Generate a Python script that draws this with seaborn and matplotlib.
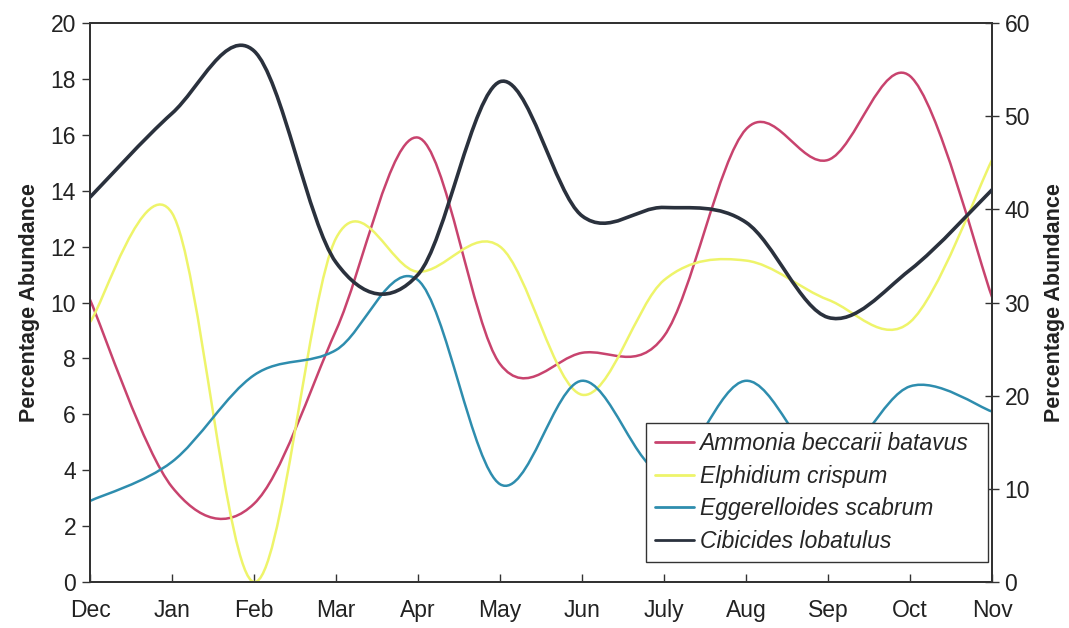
import numpy as np
import pandas as pd
import seaborn as sns
import matplotlib.pyplot as plt
from matplotlib.path import Path
from matplotlib.patches import PathPatch
from matplotlib.lines import Line2D

sns.set_theme(style="ticks")
plt.rcParams['font.family'] = ['Liberation Sans', 'DejaVu Sans']

months = ['Dec', 'Jan', 'Feb', 'Mar', 'Apr', 'May', 'Jun', 'July', 'Aug', 'Sep', 'Oct', 'Nov']

# left axis species (%)
ammonia = [10.1, 3.4, 2.8, 9.0, 15.9, 7.8, 8.2, 8.8, 16.2, 15.1, 18.1, 10.2]
elphidium = [9.3, 13.2, 0.0, 12.3, 11.1, 12.0, 6.7, 10.8, 11.5, 10.1, 9.3, 15.1]
eggerelloides = [2.9, 4.3, 7.4, 8.3, 10.8, 3.5, 7.2, 3.9, 7.2, 4.2, 7.0, 6.1]
# right axis species (%)
cibicides = [41.3, 50.3, 57.0, 34.3, 33.0, 53.7, 39.3, 40.2, 38.6, 28.4, 33.5, 42.1]

names = ['Ammonia beccarii batavus', 'Elphidium crispum',
         'Eggerelloides scabrum', 'Cibicides lobatulus']
colors = ['#C8436E', '#EEF46A', '#2E8DAE', '#2A313D']

df = pd.DataFrame({'month': months, names[0]: ammonia, names[1]: elphidium,
                   names[2]: eggerelloides, names[3]: cibicides})


def smooth_path(y):
    # Excel style smoothed line: bezier segments through every data point
    x = np.arange(len(y), dtype=float)
    y = np.asarray(y, dtype=float)
    px = np.concatenate([[x[0]], x, [x[-1]]])
    py = np.concatenate([[y[0]], y, [y[-1]]])
    verts = [(x[0], y[0])]
    codes = [Path.MOVETO]
    for i in range(len(y) - 1):
        j = i + 1
        c1 = (px[j] + (px[j + 1] - px[j - 1]) / 6, py[j] + (py[j + 1] - py[j - 1]) / 6)
        c2 = (px[j + 1] - (px[j + 2] - px[j]) / 6, py[j + 1] - (py[j + 2] - py[j]) / 6)
        verts += [c1, c2, (x[j], y[j])]
        codes += [Path.CURVE4] * 3
    return Path(verts, codes)


fig = plt.figure(figsize=(10.69, 6.28), dpi=100)
ax = fig.add_axes([0.0842, 0.0732, 0.8438, 0.8902])
ax2 = ax.twinx()

widths = [1.8, 1.8, 1.8, 2.6]
for k, name in enumerate(names):
    target = ax2 if k == 3 else ax
    patch = PathPatch(smooth_path(df[name]), fill=False, edgecolor=colors[k],
                      linewidth=widths[k], zorder=3 + k, capstyle='round')
    target.add_patch(patch)

ax.set_xlim(0, len(months) - 1)
ax.set_ylim(0, 20)
ax2.set_ylim(0, 60)
ax.set_xticks(range(len(months)))
ax.set_xticklabels(months)
ax.set_yticks(range(0, 21, 2))
ax2.set_yticks(range(0, 61, 10))

for a in (ax, ax2):
    for s in a.spines.values():
        s.set_color('#333333')
        s.set_linewidth(1.4)
ax.tick_params(axis='x', direction='in', length=6, width=1, colors='#333333',
               labelsize=16.5, labelcolor='#222222', pad=12)
ax.tick_params(axis='y', direction='out', length=6, width=1, colors='#333333',
               labelsize=16.5, labelcolor='#222222', pad=4)
ax2.tick_params(axis='y', direction='inout', length=10, width=1, colors='#333333',
                labelsize=16.5, labelcolor='#222222', pad=4)

ax.set_ylabel('Percentage Abundance', fontsize=15.5, fontweight='bold', color='#222222', labelpad=8)
ax2.set_ylabel('Percentage Abundance', fontsize=15.5, fontweight='bold', color='#222222', labelpad=10)

handles = [Line2D([0], [0], color=c, lw=2) for c in colors]
leg = ax2.legend(handles, names, loc='lower left', bbox_to_anchor=(0.604, 0.105, 0.32, 0.213),
                 bbox_transform=fig.transFigure, mode='expand', frameon=True, fancybox=False,
                 framealpha=1, facecolor='white',
                 edgecolor='#333333', handlelength=1.7, handletextpad=0.25, borderpad=0.4,
                 labelspacing=0.42, borderaxespad=0, prop={'style': 'italic', 'size': 16.5})
leg.get_frame().set_linewidth(1.0)
leg.set_zorder(10)

fig.savefig('out.png', dpi=100, facecolor='white')
